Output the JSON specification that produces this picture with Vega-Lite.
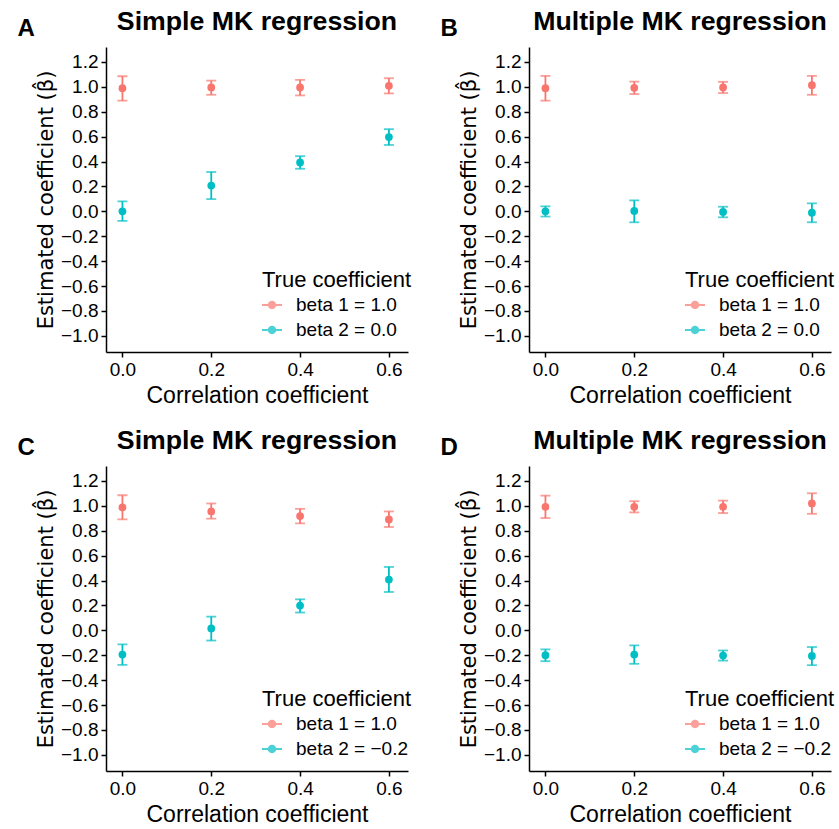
{
  "$schema": "https://vega.github.io/schema/vega-lite/v6.json",
  "padding": {"left": 17, "top": 9, "right": 5, "bottom": 5},
  "spacing": 21,
  "datasets": {
    "rows": [
      {"panel": "A", "corr": 0.0, "group": "beta 1 = 1.0", "est": 0.989, "lo": 0.889, "hi": 1.085},
      {"panel": "A", "corr": 0.2, "group": "beta 1 = 1.0", "est": 0.995, "lo": 0.936, "hi": 1.050},
      {"panel": "A", "corr": 0.4, "group": "beta 1 = 1.0", "est": 0.995, "lo": 0.931, "hi": 1.056},
      {"panel": "A", "corr": 0.6, "group": "beta 1 = 1.0", "est": 1.008, "lo": 0.947, "hi": 1.069},
      {"panel": "A", "corr": 0.0, "group": "beta 2 = 0.0", "est": 0.000, "lo": -0.077, "hi": 0.080},
      {"panel": "A", "corr": 0.2, "group": "beta 2 = 0.0", "est": 0.207, "lo": 0.098, "hi": 0.316},
      {"panel": "A", "corr": 0.4, "group": "beta 2 = 0.0", "est": 0.393, "lo": 0.342, "hi": 0.443},
      {"panel": "A", "corr": 0.6, "group": "beta 2 = 0.0", "est": 0.597, "lo": 0.533, "hi": 0.660},
      {"panel": "B", "corr": 0.0, "group": "beta 1 = 1.0", "est": 0.989, "lo": 0.889, "hi": 1.088},
      {"panel": "B", "corr": 0.2, "group": "beta 1 = 1.0", "est": 0.992, "lo": 0.942, "hi": 1.042},
      {"panel": "B", "corr": 0.4, "group": "beta 1 = 1.0", "est": 0.995, "lo": 0.950, "hi": 1.040},
      {"panel": "B", "corr": 0.6, "group": "beta 1 = 1.0", "est": 1.013, "lo": 0.936, "hi": 1.088},
      {"panel": "B", "corr": 0.0, "group": "beta 2 = 0.0", "est": 0.000, "lo": -0.042, "hi": 0.040},
      {"panel": "B", "corr": 0.2, "group": "beta 2 = 0.0", "est": 0.003, "lo": -0.088, "hi": 0.088},
      {"panel": "B", "corr": 0.4, "group": "beta 2 = 0.0", "est": -0.005, "lo": -0.048, "hi": 0.037},
      {"panel": "B", "corr": 0.6, "group": "beta 2 = 0.0", "est": -0.011, "lo": -0.088, "hi": 0.064},
      {"panel": "C", "corr": 0.0, "group": "beta 1 = 1.0", "est": 0.987, "lo": 0.891, "hi": 1.085},
      {"panel": "C", "corr": 0.2, "group": "beta 1 = 1.0", "est": 0.955, "lo": 0.897, "hi": 1.019},
      {"panel": "C", "corr": 0.4, "group": "beta 1 = 1.0", "est": 0.918, "lo": 0.859, "hi": 0.976},
      {"panel": "C", "corr": 0.6, "group": "beta 1 = 1.0", "est": 0.891, "lo": 0.830, "hi": 0.955},
      {"panel": "C", "corr": 0.0, "group": "beta 2 = \u22120.2", "est": -0.195, "lo": -0.277, "hi": -0.113},
      {"panel": "C", "corr": 0.2, "group": "beta 2 = \u22120.2", "est": 0.015, "lo": -0.082, "hi": 0.110},
      {"panel": "C", "corr": 0.4, "group": "beta 2 = \u22120.2", "est": 0.199, "lo": 0.143, "hi": 0.249},
      {"panel": "C", "corr": 0.6, "group": "beta 2 = \u22120.2", "est": 0.408, "lo": 0.308, "hi": 0.509},
      {"panel": "D", "corr": 0.0, "group": "beta 1 = 1.0", "est": 0.992, "lo": 0.902, "hi": 1.082},
      {"panel": "D", "corr": 0.2, "group": "beta 1 = 1.0", "est": 0.992, "lo": 0.947, "hi": 1.037},
      {"panel": "D", "corr": 0.4, "group": "beta 1 = 1.0", "est": 0.992, "lo": 0.942, "hi": 1.042},
      {"panel": "D", "corr": 0.6, "group": "beta 1 = 1.0", "est": 1.019, "lo": 0.936, "hi": 1.101},
      {"panel": "D", "corr": 0.0, "group": "beta 2 = \u22120.2", "est": -0.200, "lo": -0.248, "hi": -0.153},
      {"panel": "D", "corr": 0.2, "group": "beta 2 = \u22120.2", "est": -0.195, "lo": -0.269, "hi": -0.121},
      {"panel": "D", "corr": 0.4, "group": "beta 2 = \u22120.2", "est": -0.203, "lo": -0.243, "hi": -0.162},
      {"panel": "D", "corr": 0.6, "group": "beta 2 = \u22120.2", "est": -0.206, "lo": -0.280, "hi": -0.134}
    ]
  },
  "vconcat": [
    {
      "spacing": 28,
      "resolve": {"scale": {"color": "independent"}, "legend": {"color": "independent"}},
      "hconcat": [
        {
          "title": {"text": "A", "anchor": "start", "fontSize": 24, "fontWeight": "bold", "offset": -32, "dx": -18},
          "resolve": {"scale": {"color": "independent"}, "legend": {"color": "independent"}},
          "vconcat": [
            {
              "width": 302, "height": 305,
              "title": {"text": "Simple MK regression", "frame": "group", "anchor": "middle"},
              "data": {"name": "rows"},
              "transform": [{"filter": "datum.panel === 'A'"}],
              "encoding": {
                "x": {"field": "corr", "type": "quantitative", "scale": {"domain": [-0.037, 0.643], "nice": false, "zero": false}, "axis": {"title": "Correlation coefficient", "values": [0, 0.2, 0.4, 0.6], "format": ".1f"}},
                "y": {"field": "est", "type": "quantitative", "scale": {"domain": [-1.13, 1.32], "nice": false, "zero": false}, "axis": {"title": "Estimated coefficient (\u03b2\u0302)", "values": [-1, -0.8, -0.6, -0.4, -0.2, 0, 0.2, 0.4, 0.6, 0.8, 1, 1.2], "format": ".1f"}},
                "color": {"field": "group", "type": "nominal", "scale": {"domain": ["beta 1 = 1.0", "beta 2 = 0.0"], "range": ["#F8766D", "#00BFC4"]}, "legend": {"title": "True coefficient", "orient": "none", "legendX": 156, "legendY": 223}}
              },
              "layer": [
                {
                  "mark": {"type": "errorbar", "ticks": true, "size": 10, "thickness": 1.8},
                  "encoding": {
                    "y": {"field": "lo", "type": "quantitative", "scale": {"domain": [-1.13, 1.32], "nice": false, "zero": false}, "axis": {"title": "Estimated coefficient (\u03b2\u0302)", "values": [-1, -0.8, -0.6, -0.4, -0.2, 0, 0.2, 0.4, 0.6, 0.8, 1, 1.2], "format": ".1f"}},
                    "y2": {"field": "hi"}
                  }
                },
                {"mark": {"type": "point", "filled": true, "size": 60, "opacity": 1}}
              ]
            }
          ]
        },
        {
          "title": {"text": "B", "anchor": "start", "fontSize": 24, "fontWeight": "bold", "offset": -32, "dx": -18},
          "resolve": {"scale": {"color": "independent"}, "legend": {"color": "independent"}},
          "vconcat": [
            {
              "width": 302, "height": 305,
              "title": {"text": "Multiple MK regression", "frame": "group", "anchor": "middle"},
              "data": {"name": "rows"},
              "transform": [{"filter": "datum.panel === 'B'"}],
              "encoding": {
                "x": {"field": "corr", "type": "quantitative", "scale": {"domain": [-0.037, 0.643], "nice": false, "zero": false}, "axis": {"title": "Correlation coefficient", "values": [0, 0.2, 0.4, 0.6], "format": ".1f"}},
                "y": {"field": "est", "type": "quantitative", "scale": {"domain": [-1.13, 1.32], "nice": false, "zero": false}, "axis": {"title": "Estimated coefficient (\u03b2\u0302)", "values": [-1, -0.8, -0.6, -0.4, -0.2, 0, 0.2, 0.4, 0.6, 0.8, 1, 1.2], "format": ".1f"}},
                "color": {"field": "group", "type": "nominal", "scale": {"domain": ["beta 1 = 1.0", "beta 2 = 0.0"], "range": ["#F8766D", "#00BFC4"]}, "legend": {"title": "True coefficient", "orient": "none", "legendX": 156, "legendY": 223}}
              },
              "layer": [
                {
                  "mark": {"type": "errorbar", "ticks": true, "size": 10, "thickness": 1.8},
                  "encoding": {
                    "y": {"field": "lo", "type": "quantitative", "scale": {"domain": [-1.13, 1.32], "nice": false, "zero": false}, "axis": {"title": "Estimated coefficient (\u03b2\u0302)", "values": [-1, -0.8, -0.6, -0.4, -0.2, 0, 0.2, 0.4, 0.6, 0.8, 1, 1.2], "format": ".1f"}},
                    "y2": {"field": "hi"}
                  }
                },
                {"mark": {"type": "point", "filled": true, "size": 60, "opacity": 1}}
              ]
            }
          ]
        }
      ]
    },
    {
      "spacing": 28,
      "resolve": {"scale": {"color": "independent"}, "legend": {"color": "independent"}},
      "hconcat": [
        {
          "title": {"text": "C", "anchor": "start", "fontSize": 24, "fontWeight": "bold", "offset": -32, "dx": -18},
          "resolve": {"scale": {"color": "independent"}, "legend": {"color": "independent"}},
          "vconcat": [
            {
              "width": 302, "height": 305,
              "title": {"text": "Simple MK regression", "frame": "group", "anchor": "middle"},
              "data": {"name": "rows"},
              "transform": [{"filter": "datum.panel === 'C'"}],
              "encoding": {
                "x": {"field": "corr", "type": "quantitative", "scale": {"domain": [-0.037, 0.643], "nice": false, "zero": false}, "axis": {"title": "Correlation coefficient", "values": [0, 0.2, 0.4, 0.6], "format": ".1f"}},
                "y": {"field": "est", "type": "quantitative", "scale": {"domain": [-1.13, 1.32], "nice": false, "zero": false}, "axis": {"title": "Estimated coefficient (\u03b2\u0302)", "values": [-1, -0.8, -0.6, -0.4, -0.2, 0, 0.2, 0.4, 0.6, 0.8, 1, 1.2], "format": ".1f"}},
                "color": {"field": "group", "type": "nominal", "scale": {"domain": ["beta 1 = 1.0", "beta 2 = \u22120.2"], "range": ["#F8766D", "#00BFC4"]}, "legend": {"title": "True coefficient", "orient": "none", "legendX": 156, "legendY": 223}}
              },
              "layer": [
                {
                  "mark": {"type": "errorbar", "ticks": true, "size": 10, "thickness": 1.8},
                  "encoding": {
                    "y": {"field": "lo", "type": "quantitative", "scale": {"domain": [-1.13, 1.32], "nice": false, "zero": false}, "axis": {"title": "Estimated coefficient (\u03b2\u0302)", "values": [-1, -0.8, -0.6, -0.4, -0.2, 0, 0.2, 0.4, 0.6, 0.8, 1, 1.2], "format": ".1f"}},
                    "y2": {"field": "hi"}
                  }
                },
                {"mark": {"type": "point", "filled": true, "size": 60, "opacity": 1}}
              ]
            }
          ]
        },
        {
          "title": {"text": "D", "anchor": "start", "fontSize": 24, "fontWeight": "bold", "offset": -32, "dx": -18},
          "resolve": {"scale": {"color": "independent"}, "legend": {"color": "independent"}},
          "vconcat": [
            {
              "width": 302, "height": 305,
              "title": {"text": "Multiple MK regression", "frame": "group", "anchor": "middle"},
              "data": {"name": "rows"},
              "transform": [{"filter": "datum.panel === 'D'"}],
              "encoding": {
                "x": {"field": "corr", "type": "quantitative", "scale": {"domain": [-0.037, 0.643], "nice": false, "zero": false}, "axis": {"title": "Correlation coefficient", "values": [0, 0.2, 0.4, 0.6], "format": ".1f"}},
                "y": {"field": "est", "type": "quantitative", "scale": {"domain": [-1.13, 1.32], "nice": false, "zero": false}, "axis": {"title": "Estimated coefficient (\u03b2\u0302)", "values": [-1, -0.8, -0.6, -0.4, -0.2, 0, 0.2, 0.4, 0.6, 0.8, 1, 1.2], "format": ".1f"}},
                "color": {"field": "group", "type": "nominal", "scale": {"domain": ["beta 1 = 1.0", "beta 2 = \u22120.2"], "range": ["#F8766D", "#00BFC4"]}, "legend": {"title": "True coefficient", "orient": "none", "legendX": 156, "legendY": 223}}
              },
              "layer": [
                {
                  "mark": {"type": "errorbar", "ticks": true, "size": 10, "thickness": 1.8},
                  "encoding": {
                    "y": {"field": "lo", "type": "quantitative", "scale": {"domain": [-1.13, 1.32], "nice": false, "zero": false}, "axis": {"title": "Estimated coefficient (\u03b2\u0302)", "values": [-1, -0.8, -0.6, -0.4, -0.2, 0, 0.2, 0.4, 0.6, 0.8, 1, 1.2], "format": ".1f"}},
                    "y2": {"field": "hi"}
                  }
                },
                {"mark": {"type": "point", "filled": true, "size": 60, "opacity": 1}}
              ]
            }
          ]
        }
      ]
    }
  ],
  "resolve": {"scale": {"color": "independent"}, "legend": {"color": "independent"}},
  "config": {
    "font": "Liberation Sans",
    "view": {"stroke": null},
    "title": {"font": "Liberation Sans", "fontSize": 26.7, "fontWeight": "bold", "color": "black", "offset": 11},
    "axis": {
      "grid": false,
      "domainColor": "black", "domainWidth": 1.5,
      "tickColor": "black", "tickWidth": 1.5, "tickSize": 5,
      "labelColor": "black", "labelFont": "Liberation Sans", "labelFontSize": 19, "labelPadding": 3,
      "titleColor": "black", "titleFont": "Liberation Sans", "titleFontSize": 23, "titleFontWeight": "normal"
    },
    "axisX": {"titlePadding": 5},
    "axisY": {"titlePadding": 4, "titleFont": "DejaVu Sans", "titleFontSize": 21},
    "legend": {
      "titleFont": "Liberation Sans", "titleFontSize": 22, "titleFontWeight": "normal", "titleColor": "black", "titlePadding": 3,
      "labelFont": "Liberation Sans", "labelFontSize": 19, "labelColor": "black", "labelOffset": 14,
      "symbolType": "M-1,-0.1L1,-0.1L1,0.1L-1,0.1Z M0.42,0A0.42,0.42,0,1,1,-0.42,0A0.42,0.42,0,1,1,0.42,0Z",
      "symbolSize": 400, "symbolStrokeWidth": 0, "rowPadding": 5, "padding": 0
    }
  }
}
